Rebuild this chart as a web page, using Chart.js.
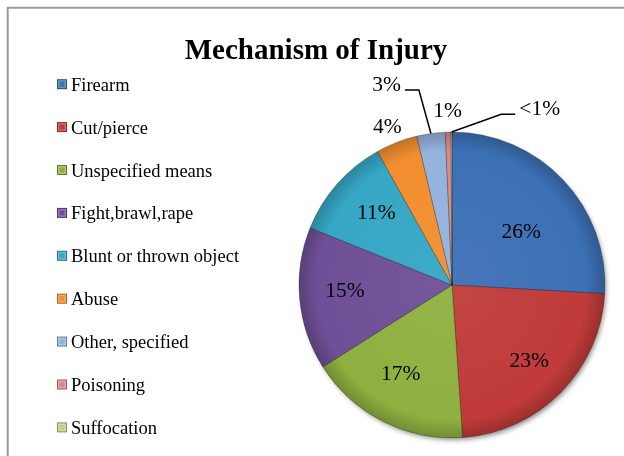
<!DOCTYPE html>
<html>
<head>
<meta charset="utf-8">
<script src="https://cdn.jsdelivr.net/npm/chart.js@4.4.1/dist/chart.umd.min.js"></script>
<style>
  body { margin: 0; background: #fff; }
  canvas { display: block; }
</style>
</head>
<body>
<canvas id="injuryChart" width="624" height="456"></canvas>
<script>
const categories = ["Firearm", "Cut/pierce", "Unspecified means", "Fight,brawl,rape",
  "Blunt or thrown object", "Abuse", "Other, specified", "Poisoning", "Suffocation"];
const shares = [25.9, 23.0, 17.1, 15.1, 10.8, 4.4, 3.0, 0.6, 0.1];
const shareLabels = ["26%", "23%", "17%", "15%", "11%", "4%", "3%", "1%", "<1%"];
const sliceColors = ["#3c70b5", "#c03b3a", "#8fb040", "#6f4f97", "#35a7c4",
  "#f28e2f", "#94b2dc", "#d98a88", "#b9d28a"];

// placement des étiquettes : [fraction du rayon, décalage d'angle en degrés, trait de rappel]
const labelPlace = [
  [0.57, 6, null], [0.71, 0, null], [0.675, 3, null], [0.70, 2, null], [0.68, 2, null],
  [1.115, -1, null], [1.375, -10.2, "left"], [1.135, 0, null], [1.283, 26.7, "right"]
];

const serif = "'Liberation Serif', 'Times New Roman', serif";
const pieRadius = 153;

// Fonction pour éclaircir (f>0) ou assombrir (f<0) une couleur
function shade(hex, f) {
  const n = parseInt(hex.slice(1), 16);
  let r = n >> 16, g = (n >> 8) & 255, b = n & 255;
  if (f < 0) {
    r *= 1 + f; g *= 1 + f; b *= 1 + f;
  } else {
    r += (255 - r) * f; g += (255 - g) * f; b += (255 - b) * f;
  }
  return "rgb(" + Math.round(r) + "," + Math.round(g) + "," + Math.round(b) + ")";
}

// Ombre portée sous le disque
const pieShadow = {
  id: "pieShadow",
  beforeDatasetsDraw(chart) {
    const arc = chart.getDatasetMeta(0).data[0];
    if (!arc) return;
    const ctx = chart.ctx;
    ctx.save();
    ctx.shadowColor = "rgba(0,0,0,0.45)";
    ctx.shadowBlur = 5;
    ctx.shadowOffsetX = 2;
    ctx.shadowOffsetY = 3;
    ctx.fillStyle = "#777";
    ctx.beginPath();
    ctx.arc(arc.x, arc.y, arc.outerRadius - 1, 0, Math.PI * 2);
    ctx.fill();
    ctx.restore();
  }
};

// Étiquettes de pourcentage et traits de rappel
const sliceLabels = {
  id: "sliceLabels",
  afterDatasetsDraw(chart) {
    const ctx = chart.ctx;
    ctx.save();
    ctx.font = "21.5px " + serif;
    ctx.fillStyle = "#000";
    ctx.strokeStyle = "#000";
    ctx.lineWidth = 1.5;
    ctx.textAlign = "center";
    ctx.textBaseline = "middle";
    chart.getDatasetMeta(0).data.forEach((arc, i) => {
      const p = arc.getProps(["x", "y", "startAngle", "endAngle", "outerRadius"], true);
      const mid = (p.startAngle + p.endAngle) / 2;
      const [f, shift, leader] = labelPlace[i];
      const a = mid + shift * Math.PI / 180;
      const tx = p.x + Math.cos(a) * p.outerRadius * f;
      const ty = p.y + Math.sin(a) * p.outerRadius * f;
      ctx.fillText(shareLabels[i], tx, ty);
      if (leader) {
        const half = ctx.measureText(shareLabels[i]).width / 2;
        const dir = leader === "left" ? 1 : -1;
        const x1 = tx + dir * (half + 4);
        const x2 = x1 + dir * 14;
        const ly = ty + 5;
        ctx.beginPath();
        ctx.moveTo(x1, ly);
        ctx.lineTo(x2, ly);
        ctx.lineTo(p.x + Math.cos(mid) * p.outerRadius, p.y + Math.sin(mid) * p.outerRadius);
        ctx.stroke();
      }
    });
    ctx.restore();
  }
};

// Cadre, titre et légende
const decor = {
  id: "decor",
  afterDraw(chart) {
    const ctx = chart.ctx;
    ctx.save();
    ctx.strokeStyle = "#9a9a9a";
    ctx.lineWidth = 2;
    ctx.beginPath();
    ctx.moveTo(7.7, 460);
    ctx.lineTo(7.7, 7.7);
    ctx.lineTo(630, 7.7);
    ctx.stroke();

    ctx.fillStyle = "#000";
    ctx.textAlign = "center";
    ctx.textBaseline = "alphabetic";
    ctx.font = "bold 29px " + serif;
    ctx.fillText("Mechanism of Injury", 316, 59);

    ctx.textAlign = "left";
    ctx.font = "18.5px " + serif;
    categories.forEach((name, i) => {
      const base = 90.7 + i * 42.9;
      const bx = 57, by = base - 11.5;
      const col = sliceColors[i];
      ctx.fillStyle = shade(col, -0.3);
      ctx.fillRect(bx, by, 10, 10);
      ctx.fillStyle = shade(col, 0.25);
      ctx.fillRect(bx + 1, by + 1, 8, 8);
      ctx.fillStyle = col;
      ctx.fillRect(bx + 2.5, by + 2.5, 5, 5);
      ctx.fillStyle = "#000";
      ctx.fillText(name, 71, base);
    });
    ctx.restore();
  }
};

const ctx = document.getElementById("injuryChart").getContext("2d");
const myChart = new Chart(ctx, {
  type: "pie",
  data: {
    labels: categories,
    datasets: [{
      data: shares,
      backgroundColor: function (c) {
        const base = sliceColors[c.dataIndex];
        const area = c.chart.chartArea;
        if (!area) return base;
        const cx = (area.left + area.right) / 2;
        const cy = (area.top + area.bottom) / 2;
        const g = c.chart.ctx.createRadialGradient(cx, cy, 0, cx, cy, pieRadius);
        g.addColorStop(0, shade(base, 0.05));
        g.addColorStop(0.88, base);
        g.addColorStop(1, shade(base, -0.2));
        return g;
      },
      borderColor: "rgba(0,0,0,0.22)",
      borderWidth: 1,
    }],
  },
  options: {
    responsive: false,
    devicePixelRatio: 1,
    animation: false,
    events: [],
    radius: pieRadius,
    layout: { padding: { left: 299, right: 19, top: 132, bottom: 18 } },
    plugins: {
      legend: { display: false },
      title: { display: false },
      tooltip: { enabled: false },
    },
  },
  plugins: [pieShadow, sliceLabels, decor],
});
</script>
</body>
</html>
